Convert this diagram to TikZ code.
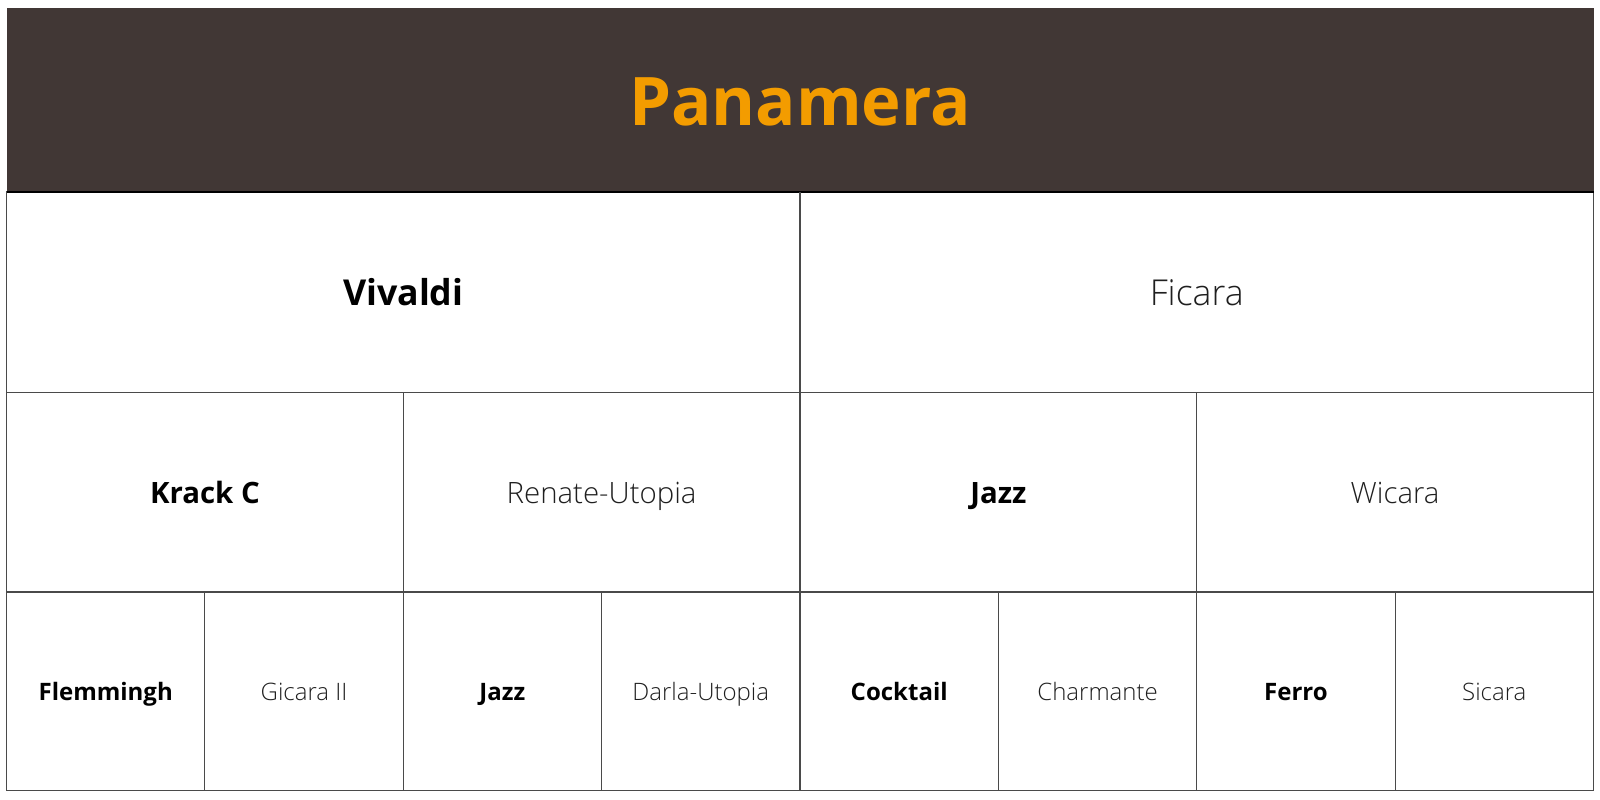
\documentclass[tikz,border=0pt]{standalone}
\usepackage{fontspec}
\setmainfont{Open Sans}
\newfontfamily\lightfont{Open Sans Light}
\definecolor{hdr}{HTML}{413735}
\definecolor{org}{HTML}{F39C00}
\definecolor{gridc}{HTML}{4A4A4A}
\begin{document}
\begin{tikzpicture}[x=1pt,y=-1pt,
  grid/.style={draw=gridc,line width=1.1pt},
  boldlbl/.style={anchor=base,font=\bfseries\fontsize{#1}{#1}\selectfont,text=black},
  lightlbl/.style={anchor=base,font=\lightfont\fontsize{#1}{#1}\selectfont,text=black!88}]
\useasboundingbox (0,0) rectangle (1600,800);
\fill[white] (0,0) rectangle (1600,800);
% header
\fill[hdr] (6.5,8) rectangle (1593.5,192);
\node[anchor=base,font=\bfseries\fontsize{67}{67}\selectfont,text=org] (title) at (800,125.5) {Panamera};
% grid
\draw[grid] (6.5,192) rectangle (1593.5,790.5);
\draw[black,line width=1.3pt] (6.5,192) -- (1593.5,192);
\draw[grid] (6.5,392.5) -- (1593.5,392.5);
\draw[grid] (6.5,592) -- (1593.5,592);
\draw[grid] (800,192) -- (800,790.5);
\draw[grid] (403.25,392.5) -- (403.25,790.5);
\draw[grid] (1196.75,392.5) -- (1196.75,790.5);
\foreach \x in {204.9,601.6,998.4,1395.1} \draw[grid] (\x,592) -- (\x,790.5);
% row 1
\node[boldlbl=35.7] (vivaldi) at (403.25,305) {Vivaldi};
\node[lightlbl=35.7] (ficara) at (1196.75,305) {Ficara};
% row 2
\node[boldlbl=29.4] (krack) at (204.9,503.5) {Krack C};
\node[lightlbl=29.4] (renate) at (601.6,503.5) {Renate-Utopia};
\node[boldlbl=29.4] (jazz1) at (998.4,503.5) {Jazz};
\node[lightlbl=29.4] (wicara) at (1395.1,503.5) {Wicara};
% row 3
\node[boldlbl=24] (flem) at (105.7,700.5) {Flemmingh};
\node[lightlbl=24] (gicara) at (304.1,700.5) {Gicara II};
\node[boldlbl=24] (jazz2) at (502.4,700.5) {Jazz};
\node[lightlbl=24] (darla) at (700.8,700.5) {Darla-Utopia};
\node[boldlbl=24] (cocktail) at (899.2,700.5) {Cocktail};
\node[lightlbl=24] (charm) at (1097.6,700.5) {Charmante};
\node[boldlbl=24] (ferro) at (1295.9,700.5) {Ferro};
\node[lightlbl=24] (sicara) at (1494.3,700.5) {Sicara};
\end{tikzpicture}
\end{document}
